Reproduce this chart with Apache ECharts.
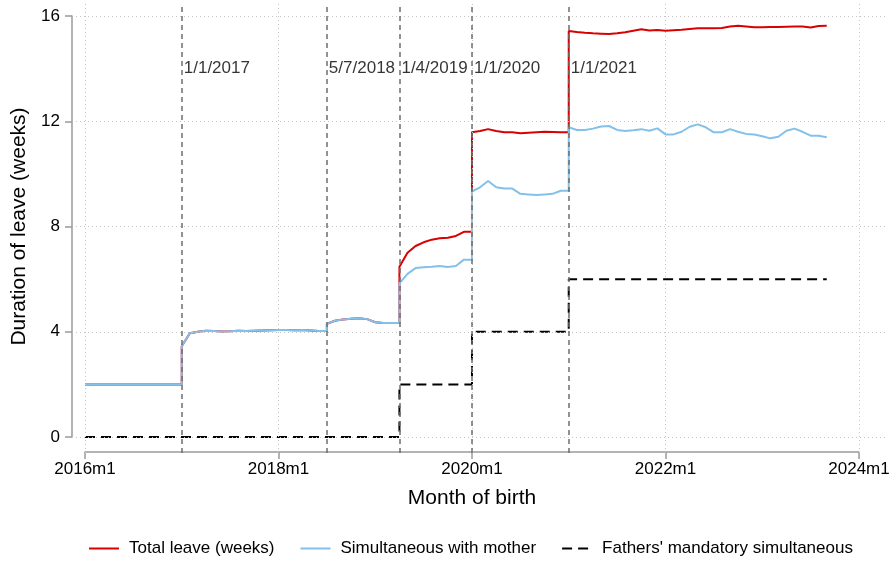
<!DOCTYPE html>
<html>
<head>
<meta charset="utf-8">
<script src="https://cdn.jsdelivr.net/npm/echarts@6/dist/echarts.min.js"></script>
<style>
  html, body { margin: 0; padding: 0; background: #ffffff; }
  #chart { width: 894px; height: 562px; }
</style>
</head>
<body>
<div id="chart"></div>
<script>
// Month index 0 = 2016m1
const monthTickValues = [0, 24, 48, 72, 96];
const monthTickLabels = ['2016m1', '2018m1', '2020m1', '2022m1', '2024m1'];
const leaveTicks = [0, 4, 8, 12, 16];

// Reform dates (month index) and their labels
const reformMonths = [12, 30, 39, 48, 60];
const reformLabels = ['1/1/2017', '5/7/2018', '1/4/2019', '1/1/2020', '1/1/2021'];

// Weeks of leave by month of birth, 2016m1 .. 2023m9
const totalLeave = [
  2.0, 2.0, 2.0, 2.0, 2.0, 2.0, 2.0, 2.0, 2.0, 2.0, 2.0, 2.0,
  3.45, 3.94, 4.00, 4.04, 4.03, 4.01, 4.02, 4.04, 4.03, 4.04, 4.05, 4.06,
  4.07, 4.07, 4.06, 4.07, 4.05, 4.03, 4.30, 4.42, 4.47, 4.49, 4.51, 4.48,
  4.36, 4.33, 4.33, 6.47, 7.00, 7.26, 7.40, 7.50, 7.55, 7.57, 7.64, 7.80,
  11.58, 11.63, 11.70, 11.63, 11.58, 11.58, 11.54, 11.56, 11.58, 11.60, 11.59, 11.58,
  15.43, 15.39, 15.36, 15.34, 15.33, 15.32, 15.34, 15.38, 15.44, 15.50, 15.45, 15.47,
  15.44, 15.46, 15.48, 15.51, 15.53, 15.53, 15.53, 15.54, 15.60, 15.63, 15.60, 15.57,
  15.57, 15.58, 15.58, 15.59, 15.60, 15.60, 15.56, 15.62, 15.63
];
const simultaneousWithMother = [
  2.0, 2.0, 2.0, 2.0, 2.0, 2.0, 2.0, 2.0, 2.0, 2.0, 2.0, 2.0,
  3.45, 3.94, 4.00, 4.04, 4.03, 4.01, 4.02, 4.04, 4.03, 4.04, 4.05, 4.06,
  4.07, 4.07, 4.06, 4.07, 4.05, 4.03, 4.30, 4.42, 4.47, 4.49, 4.51, 4.48,
  4.36, 4.33, 4.33, 5.84, 6.20, 6.42, 6.45, 6.47, 6.50, 6.46, 6.50, 6.74,
  9.33, 9.49, 9.73, 9.49, 9.44, 9.44, 9.24, 9.22, 9.20, 9.22, 9.24, 9.36,
  11.77, 11.67, 11.67, 11.72, 11.80, 11.82, 11.67, 11.63, 11.66, 11.70, 11.64, 11.73,
  11.50, 11.50, 11.60, 11.79, 11.88, 11.77, 11.58, 11.58, 11.70, 11.60, 11.52, 11.50,
  11.43, 11.35, 11.41, 11.64, 11.72, 11.60, 11.45, 11.45, 11.39
];
const fathersMandatory = [
  0, 0, 0, 0, 0, 0, 0, 0, 0, 0, 0, 0,
  0, 0, 0, 0, 0, 0, 0, 0, 0, 0, 0, 0,
  0, 0, 0, 0, 0, 0, 0, 0, 0, 0, 0, 0,
  0, 0, 0, 2, 2, 2, 2, 2, 2, 2, 2, 2,
  4, 4, 4, 4, 4, 4, 4, 4, 4, 4, 4, 4,
  6, 6, 6, 6, 6, 6, 6, 6, 6, 6, 6, 6,
  6, 6, 6, 6, 6, 6, 6, 6, 6, 6, 6, 6,
  6, 6, 6, 6, 6, 6, 6, 6, 6
];

// Policy changes take effect at the start of the reform month, so the
// series rise vertically there: repeat the prior level at that month.
function monthlyPoints(values) {
  const pts = [];
  values.forEach((v, m) => {
    if (m > 0 && reformMonths.includes(m)) pts.push([m, values[m - 1]]);
    pts.push([m, v]);
  });
  return pts;
}

const FONT = "'Liberation Sans', Arial, Helvetica, sans-serif";
const reformLabelLevel = 14.0;
const AXIS_GRAY = '#9a9a9a';

const chart = echarts.init(document.getElementById('chart'), null, { renderer: 'canvas' });

const option = {
  animation: false,
  backgroundColor: '#ffffff',
  textStyle: { fontFamily: FONT },
  grid: [
    // plot region (data, grid lines, reform markers)
    { left: 76, right: 6, top: 4, bottom: 109 },
    // axis frame: 2016m1..2024m1 by 0..16 weeks
    { left: 85, right: 35, top: 16, bottom: 125 }
  ],
  xAxis: [
    { gridIndex: 0, type: 'value', min: -1.116, max: 99.6, show: false },
    {
      gridIndex: 1, type: 'value', min: 0, max: 96, interval: 24, offset: 15,
      axisLine: { show: true, onZero: false, lineStyle: { color: AXIS_GRAY, width: 1.5 } },
      axisTick: { show: true, length: 7, lineStyle: { color: AXIS_GRAY, width: 1.5 } },
      axisLabel: {
        color: '#000', fontSize: 17, margin: 9, fontFamily: FONT,
        formatter: v => monthTickLabels[monthTickValues.indexOf(v)] || ''
      },
      splitLine: { show: false },
      name: 'Month of birth', nameLocation: 'middle', nameGap: 36,
      nameTextStyle: { color: '#000', fontSize: 21, fontFamily: FONT }
    }
  ],
  yAxis: [
    { gridIndex: 0, type: 'value', min: -0.608, max: 16.456, show: false },
    {
      gridIndex: 1, type: 'value', min: 0, max: 16, interval: 4, offset: 13,
      axisLine: { show: true, onZero: false, lineStyle: { color: AXIS_GRAY, width: 1.5 } },
      axisTick: { show: true, length: 7, lineStyle: { color: AXIS_GRAY, width: 1.5 } },
      axisLabel: { color: '#000', fontSize: 17, margin: 12, fontFamily: FONT },
      splitLine: { show: false },
      name: 'Duration of leave (weeks)', nameLocation: 'middle', nameGap: 42,
      nameTextStyle: { color: '#000', fontSize: 21, fontFamily: FONT }
    }
  ],
  legend: {
    left: 88, top: 540, padding: 0,
    itemWidth: 30, itemHeight: 14, itemGap: 25,
    itemStyle: { opacity: 0 },
    textStyle: { color: '#000', fontSize: 17, fontFamily: FONT, padding: [0, 0, 0, 5] },
    data: ['Total leave (weeks)', 'Simultaneous with mother', "Fathers' mandatory simultaneous"]
  },
  series: [
    {
      // dotted grid
      type: 'line', xAxisIndex: 0, yAxisIndex: 0, data: [], silent: true,
      markLine: {
        silent: true, symbol: 'none', label: { show: false },
        lineStyle: { color: '#c4c4c4', width: 1, type: [1, 3] },
        data: monthTickValues.map(v => ({ xAxis: v })).concat(leaveTicks.map(v => ({ yAxis: v })))
      }
    },
    {
      // reform dates
      type: 'line', xAxisIndex: 0, yAxisIndex: 0, data: [], silent: true,
      markLine: {
        silent: true, symbol: 'none', label: { show: false },
        lineStyle: { color: '#6e6e6e', width: 1.5, type: [5, 4] },
        data: reformMonths.map(v => ({ xAxis: v }))
      }
    },
    {
      type: 'scatter', xAxisIndex: 0, yAxisIndex: 0, silent: true,
      symbolSize: 0,
      data: reformMonths.map((m, i) => ({ value: [m, reformLabelLevel], name: reformLabels[i] })),
      label: {
        show: true, position: 'right', distance: 2,
        formatter: p => p.name, color: '#000', fontSize: 17, fontFamily: FONT
      }
    },
    {
      name: 'Total leave (weeks)', type: 'line', xAxisIndex: 0, yAxisIndex: 0,
      data: monthlyPoints(totalLeave), symbol: 'none', showSymbol: false,
      lineStyle: { color: '#d90000', width: 2 }, itemStyle: { color: '#d90000' }
    },
    {
      name: 'Simultaneous with mother', type: 'line', xAxisIndex: 0, yAxisIndex: 0,
      data: monthlyPoints(simultaneousWithMother), symbol: 'none', showSymbol: false,
      lineStyle: { color: '#84c1ea', width: 2 }, itemStyle: { color: '#84c1ea' }
    },
    {
      name: "Fathers' mandatory simultaneous", type: 'line', xAxisIndex: 0, yAxisIndex: 0,
      data: monthlyPoints(fathersMandatory), symbol: 'none', showSymbol: false,
      lineStyle: { color: '#000000', width: 2, type: [10, 6] }, itemStyle: { color: '#000000' }
    }
  ]
};

chart.setOption(option);
</script>
</body>
</html>
